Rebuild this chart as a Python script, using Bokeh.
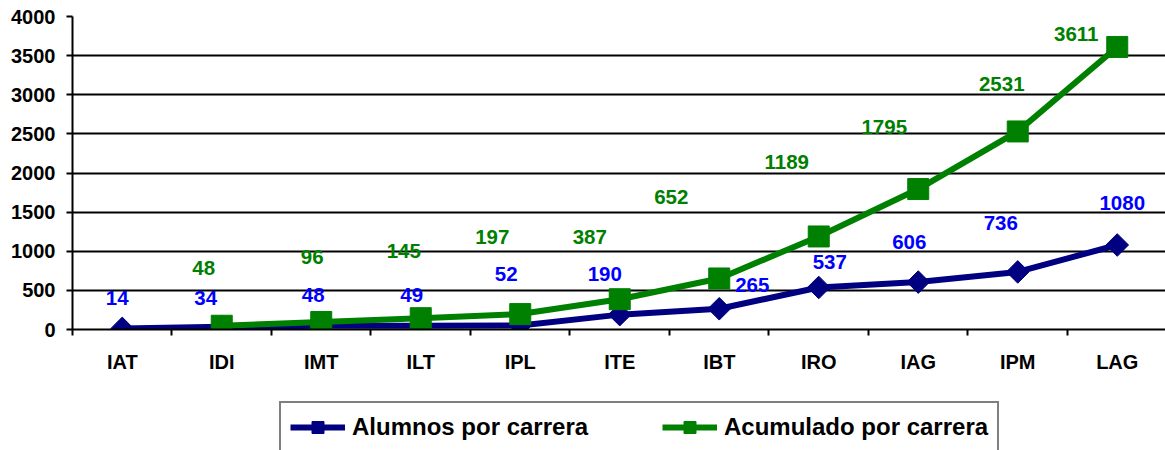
import numpy as np
from bokeh.plotting import figure
from bokeh.layouts import column
from bokeh.models import (ColumnDataSource, Range1d, FixedTicker, Legend, LegendItem)
from bokeh.core.properties import value
from bokeh.embed import file_html
from bokeh.resources import INLINE

# ---------------- data ----------------
categories = ["IAT", "IDI", "IMT", "ILT", "IPL", "ITE", "IBT", "IRO", "IAG", "IPM", "LAG"]
alumnos = [14, 34, 48, 49, 52, 190, 265, 537, 606, 736, 1080]
acumulado_categories = ["IDI", "IMT", "ILT", "IPL", "ITE", "IBT", "IRO", "IAG", "IPM", "LAG"]
acumulado = [48, 96, 145, 197, 387, 652, 1189, 1795, 2531, 3611]
y_ticks = [0, 500, 1000, 1500, 2000, 2500, 3000, 3500, 4000]
series_names = ["Alumnos por carrera", "Acumulado por carrera"]

# ---------------- label placement (screen px, style only) ----------------
alumnos_dx = [-5, -16, -8, -9, -14, -15, 33, 11, -9, -17, 5]
alumnos_dy = [-30, -29, -31, -31, -51, -41, -24, -25, -40, -49, -42]
acum_dx = [-18, -9, -17, -28, -30, -48, -32, -34, -16, -41]
acum_dy = [-58, -65, -67, -77, -62, -81, -74, -62, -47, -13]

FONT = "Liberation Sans"
NAVY = "#000080"
BLUE = "#0000FF"
GREEN = "#008000"

idx = {c: i for i, c in enumerate(categories)}

src_a = ColumnDataSource(dict(
    x=[idx[c] for c in categories], y=alumnos,
    label=[str(v) for v in alumnos], dx=alumnos_dx, dy=alumnos_dy))
src_b = ColumnDataSource(dict(
    x=[idx[c] for c in acumulado_categories], y=acumulado,
    label=[str(v) for v in acumulado], dx=acum_dx, dy=acum_dy))

n = len(categories)
p = figure(width=1165, height=392, output_backend="svg", toolbar_location=None,
           x_range=Range1d(-0.5, n - 0.5 - 0.015), y_range=Range1d(0, 4000),
           min_border_left=72, min_border_right=0, min_border_top=16,
           min_border_bottom=63)
p.outline_line_color = None
p.background_fill_color = "white"
p.border_fill_color = "white"

# grid
p.xgrid.visible = False
p.ygrid.ticker = FixedTicker(ticks=y_ticks)
p.ygrid.grid_line_color = "black"
p.ygrid.grid_line_width = 2

# x axis
p.xaxis.ticker = FixedTicker(ticks=list(range(n)),
                             minor_ticks=[i - 0.5 for i in range(n + 1)])
p.xaxis.major_label_overrides = {i: c for i, c in enumerate(categories)}
p.xaxis.major_tick_line_color = None
p.xaxis.major_tick_out = 0
p.xaxis.major_tick_in = 0
p.xaxis.minor_tick_line_color = "black"
p.xaxis.minor_tick_line_width = 2
p.xaxis.minor_tick_out = 6
p.xaxis.minor_tick_in = 0
p.xaxis.major_label_standoff = 15
p.xaxis.axis_line_width = 2
p.xaxis.axis_line_color = "black"

# y axis
p.yaxis.ticker = FixedTicker(ticks=y_ticks)
p.yaxis.minor_tick_line_color = None
p.yaxis.major_tick_out = 6
p.yaxis.major_tick_in = 0
p.yaxis.major_tick_line_width = 2
p.yaxis.major_label_standoff = 11
p.yaxis.axis_line_width = 2
p.yaxis.axis_line_color = "black"

for ax in (p.xaxis, p.yaxis):
    ax.major_label_text_font = FONT
    ax.major_label_text_font_style = "bold"
    ax.major_label_text_font_size = "20px"
    ax.major_label_text_color = "black"


def draw_series(fig):
    l1 = fig.line("x", "y", source=src_a, line_color=NAVY, line_width=6)
    s1 = fig.scatter("x", "y", source=src_a, marker="square", angle=np.pi / 4,
                     size=16, fill_color=NAVY, line_color=NAVY)
    l2 = fig.line("x", "y", source=src_b, line_color=GREEN, line_width=6)
    s2 = fig.scatter("x", "y", source=src_b, marker="square", size=21,
                     fill_color=GREEN, line_color=GREEN)
    return l1, s1, l2, s2


draw_series(p)

# data labels
p.text("x", "y", text="label", x_offset="dx", y_offset="dy", source=src_a,
       text_font=value(FONT), text_font_style="bold", text_font_size="20.5px",
       text_color=BLUE, text_align="center", text_baseline="middle")
p.text("x", "y", text="label", x_offset="dx", y_offset="dy", source=src_b,
       text_font=value(FONT), text_font_style="bold", text_font_size="20.5px",
       text_color=GREEN, text_align="center", text_baseline="middle")

# ---------------- legend strip (same series, view window outside data) ----------------
pl = figure(width=1165, height=58, output_backend="svg", toolbar_location=None,
            x_range=Range1d(100, 101), y_range=Range1d(100000, 100001),
            x_axis_location=None, y_axis_location=None, min_border=0)
pl.grid.visible = False
pl.outline_line_color = None
pl.background_fill_color = "white"
pl.border_fill_color = "white"
la, sa, lb, sb = draw_series(pl)

legend = Legend(items=[LegendItem(label=series_names[0], renderers=[la, sa]),
                       LegendItem(label=series_names[1], renderers=[lb, sb])],
                orientation="horizontal", location=(207, -3),
                label_text_font=FONT, label_text_font_style="bold",
                label_text_font_size="24px", label_text_color="black",
                label_width=240, glyph_width=55, glyph_height=30,
                label_standoff=7, spacing=70, padding=9, margin=0,
                border_line_color="black", border_line_width=2,
                background_fill_color="white", background_fill_alpha=1)
pl.add_layout(legend)

layout = column(p, pl, spacing=0)
open("out.html", "w").write(file_html(layout, INLINE))
